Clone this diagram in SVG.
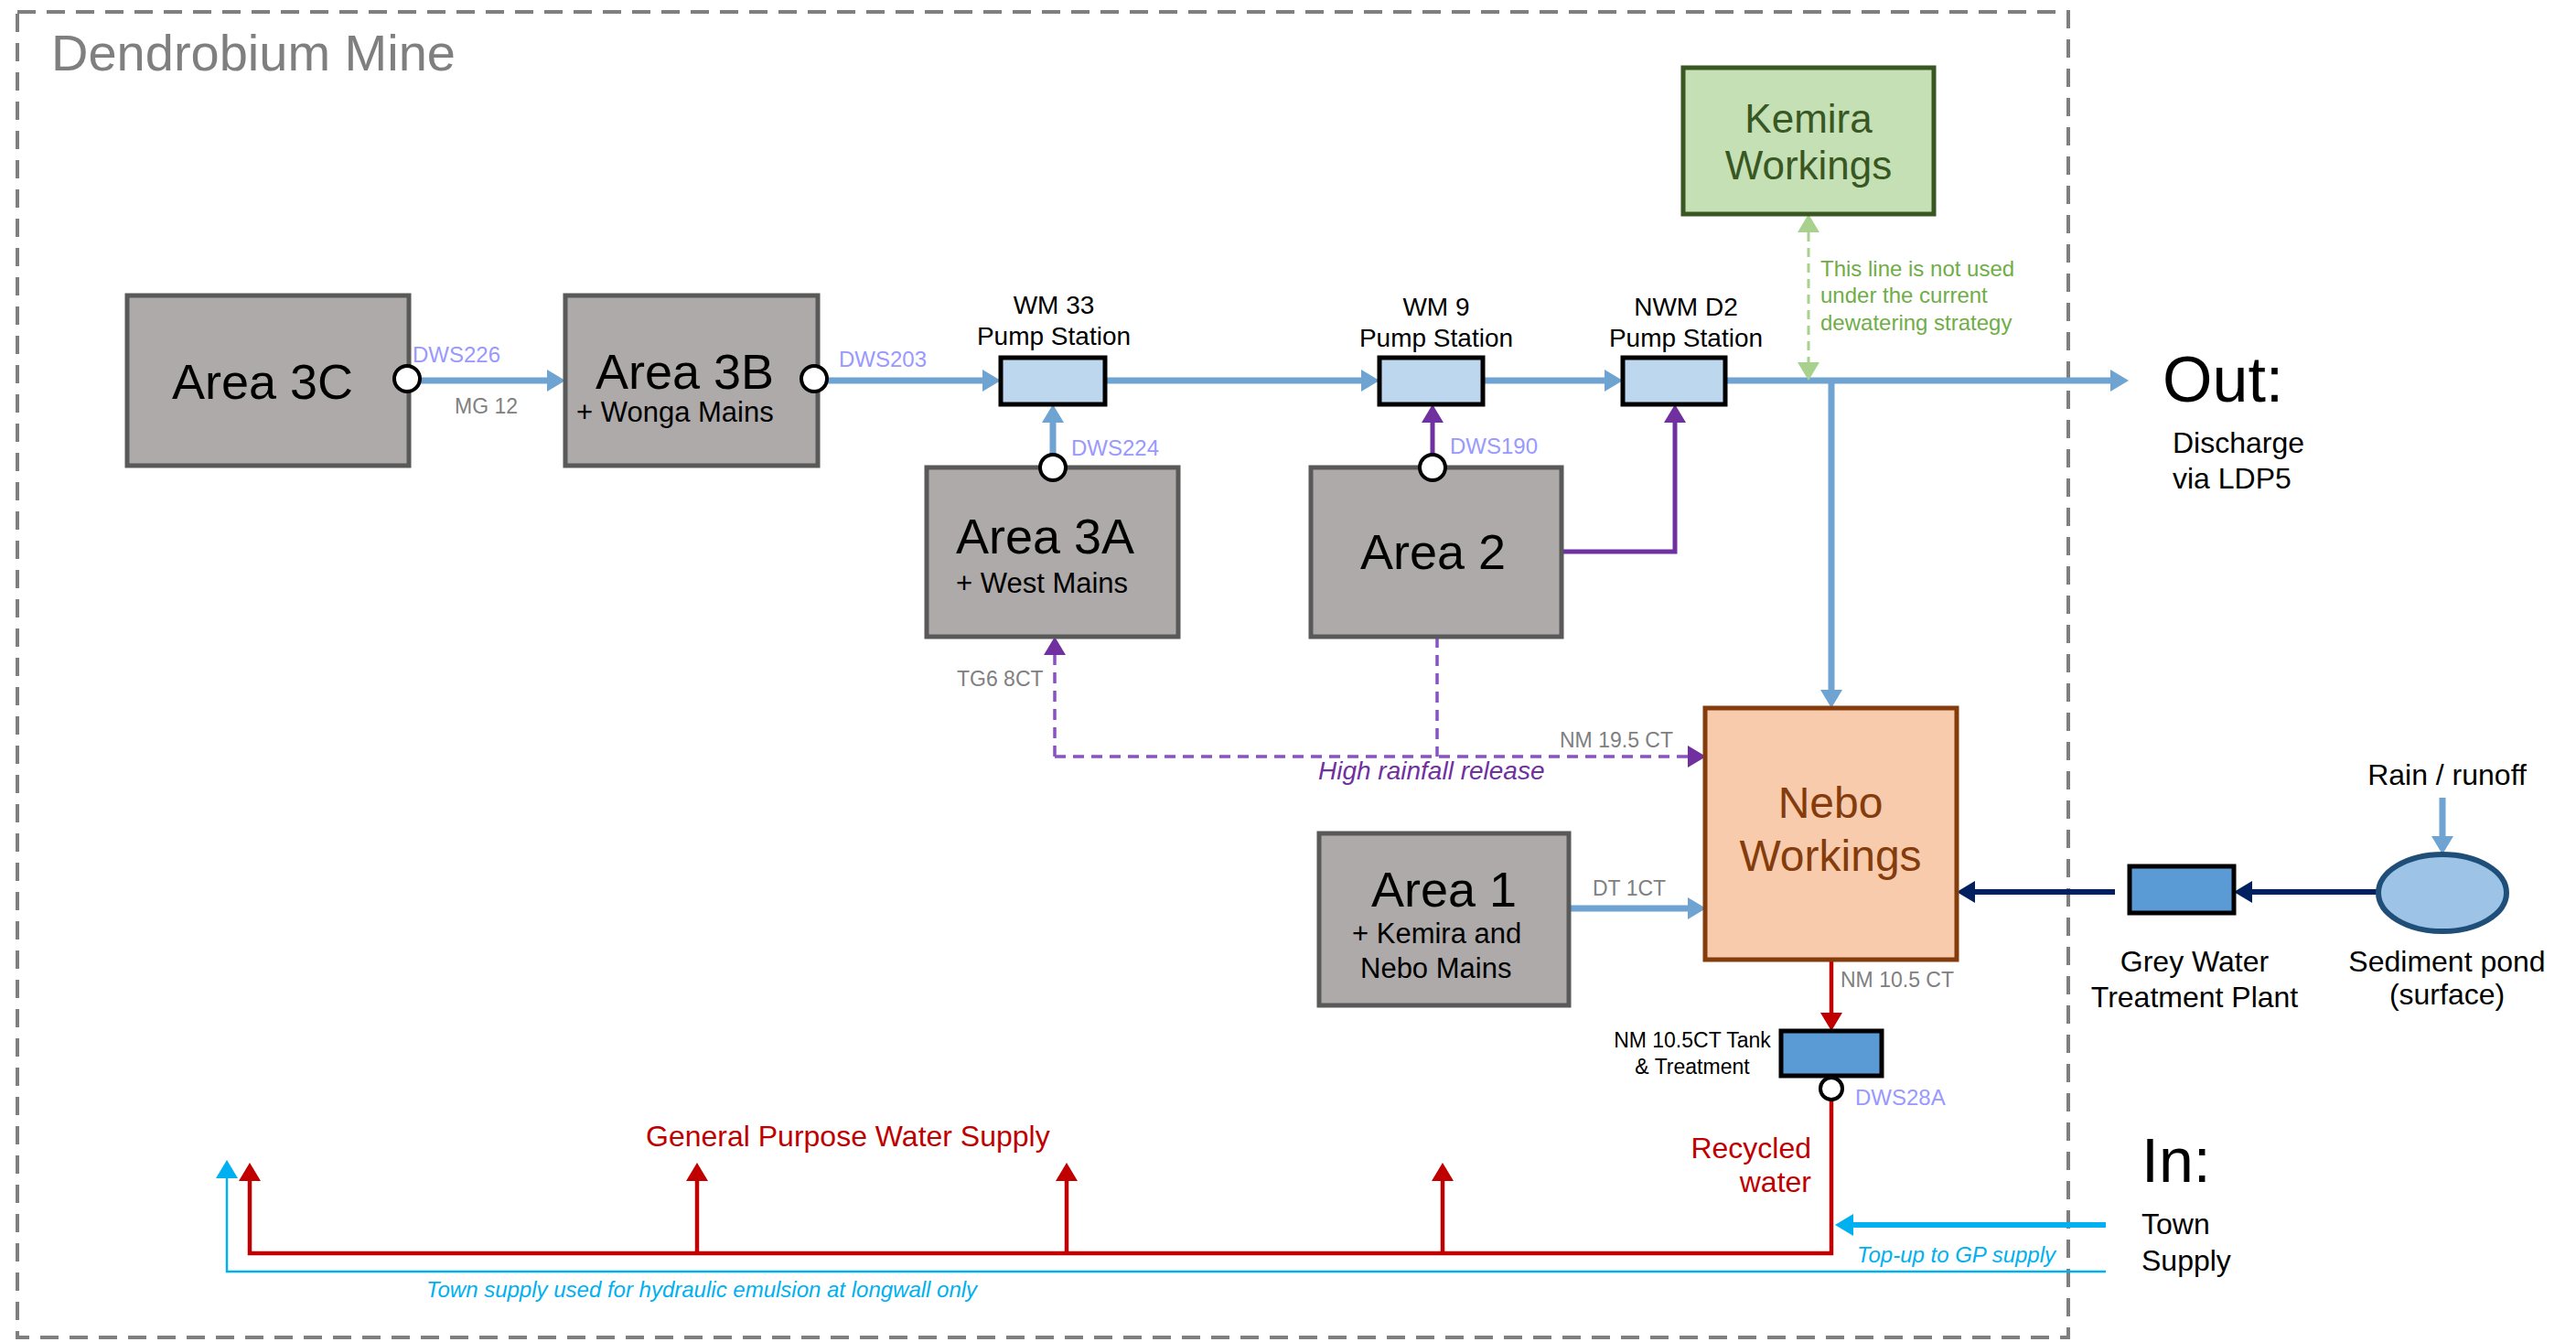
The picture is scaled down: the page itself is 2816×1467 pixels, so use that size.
<svg xmlns="http://www.w3.org/2000/svg" width="2816" height="1467" viewBox="0 0 2816 1467">
<style>
text{font-family:"Liberation Sans",Arial,sans-serif;}
.area{fill:#aeaaaa;stroke:#595959;stroke-width:5;}
.big{font-size:54px;fill:#000;}
.sub{font-size:31px;fill:#000;}
.lbl{font-size:28px;fill:#000;}
.mid{font-size:32px;fill:#000;}
.dws{font-size:24px;fill:#9999ff;}
.gray{font-size:23px;fill:#808080;}
.pump{fill:#bdd7ee;stroke:#000;stroke-width:5;}
.tank{fill:#5b9bd5;stroke:#000;stroke-width:5;}
.port{fill:#fff;stroke:#000;stroke-width:4;}
.blue{stroke:#6fa3d1;stroke-width:7;fill:none;}
.purple{stroke:#7030a0;stroke-width:5;fill:none;}
.pdash{stroke:#8a50c8;stroke-width:3.5;fill:none;stroke-dasharray:12 8;}
.red{stroke:#c00000;stroke-width:4.5;fill:none;}
.navy{stroke:#002060;stroke-width:6;fill:none;}
.cyan{stroke:#00b0f0;fill:none;}
.gdash{stroke:#a9d18e;stroke-width:3;fill:none;stroke-dasharray:10 7;}
.it{font-style:italic;}
</style>
<defs>
<marker id="aBlue" markerUnits="userSpaceOnUse" markerWidth="20" markerHeight="24" viewBox="0 -12 20 24" refX="0" refY="0" orient="auto"><path d="M0,-12 L20,0 L0,12 z" fill="#6fa3d1"/></marker>
<marker id="aPurple" markerUnits="userSpaceOnUse" markerWidth="20" markerHeight="24" viewBox="0 -12 20 24" refX="0" refY="0" orient="auto"><path d="M0,-12 L20,0 L0,12 z" fill="#7030a0"/></marker>
<marker id="aRed" markerUnits="userSpaceOnUse" markerWidth="20" markerHeight="24" viewBox="0 -12 20 24" refX="0" refY="0" orient="auto"><path d="M0,-12 L20,0 L0,12 z" fill="#c00000"/></marker>
<marker id="aNavy" markerUnits="userSpaceOnUse" markerWidth="20" markerHeight="24" viewBox="0 -12 20 24" refX="0" refY="0" orient="auto"><path d="M0,-12 L20,0 L0,12 z" fill="#002060"/></marker>
<marker id="aCyan" markerUnits="userSpaceOnUse" markerWidth="20" markerHeight="24" viewBox="0 -12 20 24" refX="0" refY="0" orient="auto"><path d="M0,-12 L20,0 L0,12 z" fill="#00b0f0"/></marker>
<marker id="aGreen" markerUnits="userSpaceOnUse" markerWidth="20" markerHeight="24" viewBox="0 -12 20 24" refX="0" refY="0" orient="auto-start-reverse"><path d="M0,-12 L20,0 L0,12 z" fill="#a9d18e"/></marker>
</defs>
<rect width="2816" height="1467" fill="#fff"/>

<g id="mine-boundary">
<rect x="19" y="13" width="2242" height="1449" fill="none" stroke="#7f7f7f" stroke-width="4" stroke-dasharray="20 12"/>
<text x="56" y="77" font-size="56" fill="#7f7f7f">Dendrobium Mine</text>
</g>

<g id="connectors">
<line class="blue" x1="460" y1="416" x2="598" y2="416" marker-end="url(#aBlue)"/>
<line class="blue" x1="905" y1="416" x2="1074" y2="416" marker-end="url(#aBlue)"/>
<line class="blue" x1="1208" y1="416" x2="1488" y2="416" marker-end="url(#aBlue)"/>
<line class="blue" x1="1621" y1="416" x2="1754" y2="416" marker-end="url(#aBlue)"/>
<line class="blue" x1="1886" y1="416" x2="2307" y2="416" marker-end="url(#aBlue)"/>
<line class="blue" x1="2002" y1="416" x2="2002" y2="754" marker-end="url(#aBlue)"/>
<line class="blue" x1="1151" y1="496" x2="1151" y2="462" marker-end="url(#aBlue)"/>
<line class="purple" x1="1566" y1="496" x2="1566" y2="462" marker-end="url(#aPurple)"/>
<path class="purple" d="M1707,603 L1831,603 L1831,462" marker-end="url(#aPurple)"/>
<line class="gdash" x1="1977" y1="254" x2="1977" y2="396" marker-start="url(#aGreen)" marker-end="url(#aGreen)"/>
<line class="pdash" x1="1571" y1="696" x2="1571" y2="827"/>
<line class="pdash" x1="1153" y1="827" x2="1153" y2="716" marker-end="url(#aPurple)"/>
<line class="pdash" x1="1153" y1="827" x2="1845" y2="827" marker-end="url(#aPurple)"/>
<line class="blue" x1="1715" y1="993" x2="1845" y2="993" marker-end="url(#aBlue)"/>
<line class="navy" x1="2312" y1="975" x2="2159" y2="975" marker-end="url(#aNavy)"/>
<line class="navy" x1="2600" y1="975" x2="2462" y2="975" marker-end="url(#aNavy)"/>
<line class="blue" x1="2670" y1="872" x2="2670" y2="914" marker-end="url(#aBlue)"/>
<line class="red" x1="2002" y1="1049" x2="2002" y2="1107" marker-end="url(#aRed)"/>
<path class="red" d="M2002,1202 L2002,1370 L273,1370 L273,1291" marker-end="url(#aRed)"/>
<line class="red" x1="762" y1="1370" x2="762" y2="1291" marker-end="url(#aRed)"/>
<line class="red" x1="1166" y1="1370" x2="1166" y2="1291" marker-end="url(#aRed)"/>
<line class="red" x1="1577" y1="1370" x2="1577" y2="1291" marker-end="url(#aRed)"/>
<path class="cyan" stroke-width="2.5" d="M2302,1390 L248,1390 L248,1288" marker-end="url(#aCyan)"/>
<line class="cyan" stroke-width="6" x1="2302" y1="1339" x2="2026" y2="1339" marker-end="url(#aCyan)"/>

<text x="451" y="396" class="dws">DWS226</text>
<text x="497" y="452" class="gray">MG 12</text>
<text x="917" y="401" class="dws">DWS203</text>
<text x="1171" y="498" class="dws">DWS224</text>
<text x="1585" y="496" class="dws">DWS190</text>
<text x="1046" y="750" class="gray">TG6 8CT</text>
<text x="1705" y="817" class="gray">NM 19.5 CT</text>
<text x="1441" y="852" font-size="28" fill="#7030a0" class="it">High rainfall release</text>
<text x="1741" y="979" class="gray">DT 1CT</text>
<text x="2012" y="1079" class="gray">NM 10.5 CT</text>
<text x="2028" y="1208" class="dws">DWS28A</text>
<text x="1990" y="302" font-size="24" fill="#70ad47">This line is not used</text>
<text x="1990" y="331" font-size="24" fill="#70ad47">under the current</text>
<text x="1990" y="361" font-size="24" fill="#70ad47">dewatering strategy</text>
<text x="706" y="1253" font-size="32" fill="#c00000">General Purpose Water Supply</text>
<text x="1980" y="1266" font-size="32" fill="#c00000" text-anchor="end">Recycled</text>
<text x="1980" y="1303" font-size="32" fill="#c00000" text-anchor="end">water</text>
<text x="2030" y="1380" font-size="24" fill="#00b0f0" class="it">Top-up to GP supply</text>
<text x="466" y="1418" font-size="24" fill="#00b0f0" class="it">Town supply used for hydraulic emulsion at longwall only</text>
</g>

<g id="area3c">
<rect class="area" x="139" y="323" width="308" height="186"/>
<text x="188" y="436" class="big">Area 3C</text>
<circle class="port" cx="445" cy="414" r="14"/>
</g>
<g id="area3b">
<rect class="area" x="618" y="323" width="276" height="186"/>
<text x="651" y="425" class="big">Area 3B</text>
<text x="630" y="461" class="sub">+ Wonga Mains</text>
<circle class="port" cx="890" cy="414" r="14"/>
</g>
<g id="wm33">
<rect class="pump" x="1094" y="391" width="114" height="51"/>
<text x="1152" y="343" class="lbl" text-anchor="middle">WM 33</text>
<text x="1152" y="377" class="lbl" text-anchor="middle">Pump Station</text>
</g>
<g id="wm9">
<rect class="pump" x="1508" y="391" width="113" height="51"/>
<text x="1570" y="345" class="lbl" text-anchor="middle">WM 9</text>
<text x="1570" y="379" class="lbl" text-anchor="middle">Pump Station</text>
</g>
<g id="nwmd2">
<rect class="pump" x="1774" y="391" width="112" height="51"/>
<text x="1843" y="345" class="lbl" text-anchor="middle">NWM D2</text>
<text x="1843" y="379" class="lbl" text-anchor="middle">Pump Station</text>
</g>
<g id="area3a">
<rect class="area" x="1013" y="511" width="275" height="185"/>
<text x="1045" y="605" class="big">Area 3A</text>
<text x="1045" y="648" class="sub">+ West Mains</text>
<circle class="port" cx="1151" cy="511" r="14"/>
</g>
<g id="area2">
<rect class="area" x="1433" y="511" width="274" height="185"/>
<text x="1487" y="622" class="big">Area 2</text>
<circle class="port" cx="1566" cy="511" r="14"/>
</g>
<g id="kemira">
<rect x="1840" y="74" width="274" height="160" fill="#c5e0b4" stroke="#385723" stroke-width="5"/>
<text x="1977" y="145" font-size="44" fill="#385723" text-anchor="middle">Kemira</text>
<text x="1977" y="196" font-size="44" fill="#385723" text-anchor="middle">Workings</text>
</g>
<g id="out">
<text x="2364" y="439" font-size="70" fill="#000">Out:</text>
<text x="2375" y="495" class="mid">Discharge</text>
<text x="2375" y="534" class="mid">via LDP5</text>
</g>
<g id="nebo">
<rect x="1864" y="774" width="275" height="275" fill="#f8cbad" stroke="#843c0c" stroke-width="5"/>
<text x="2001" y="894" font-size="48" fill="#843c0c" text-anchor="middle">Nebo</text>
<text x="2001" y="952" font-size="48" fill="#843c0c" text-anchor="middle">Workings</text>
</g>
<g id="area1">
<rect class="area" x="1442" y="911" width="273" height="188"/>
<text x="1499" y="991" class="big">Area 1</text>
<text x="1478" y="1031" class="sub">+ Kemira and</text>
<text x="1487" y="1069" class="sub">Nebo Mains</text>
</g>
<g id="gwtp">
<rect class="tank" x="2328" y="947" width="114" height="51"/>
<text x="2399" y="1062" class="mid" text-anchor="middle">Grey Water</text>
<text x="2399" y="1101" class="mid" text-anchor="middle">Treatment Plant</text>
</g>
<g id="sediment-pond">
<ellipse cx="2670" cy="976" rx="70" ry="42" fill="#9dc3e6" stroke="#1f4e79" stroke-width="6"/>
<text x="2675" y="1062" class="mid" text-anchor="middle">Sediment pond</text>
<text x="2675" y="1098" class="mid" text-anchor="middle">(surface)</text>
<text x="2675" y="858" class="mid" text-anchor="middle">Rain / runoff</text>
</g>
<g id="tank">
<rect class="tank" x="1947" y="1127" width="110" height="49"/>
<text x="1850" y="1145" font-size="23" fill="#000" text-anchor="middle">NM 10.5CT Tank</text>
<text x="1850" y="1174" font-size="23" fill="#000" text-anchor="middle">&amp; Treatment</text>
<circle class="port" cx="2002" cy="1190" r="12"/>
</g>
<g id="in">
<text x="2341" y="1292" font-size="68" fill="#000">In:</text>
<text x="2341" y="1349" class="mid">Town</text>
<text x="2341" y="1389" class="mid">Supply</text>
</g>
</svg>
